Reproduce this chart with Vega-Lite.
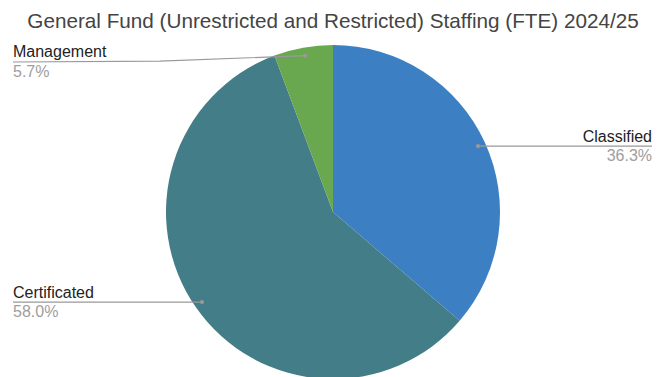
{
  "$schema": "https://vega.github.io/schema/vega-lite/v6.json",
  "width": 666,
  "height": 330,
  "autosize": {"type": "none"},
  "padding": {"top": 47, "left": 0, "right": 2, "bottom": 0},
  "background": "white",
  "title": {
    "text": "General Fund (Unrestricted and Restricted) Staffing (FTE) 2024/25",
    "font": "Liberation Sans",
    "fontSize": 20.7,
    "fontWeight": "normal",
    "color": "#444444",
    "anchor": "middle",
    "frame": "group",
    "baseline": "alphabetic",
    "offset": 20,
    "dy": 24.3
  },
  "config": {"view": {"stroke": null}},
  "datasets": {
    "slices": [
      {"category": "Classified", "share": 36.3, "order": 1},
      {"category": "Certificated", "share": 58.0, "order": 2},
      {"category": "Management", "share": 5.7, "order": 3}
    ],
    "leaders": [
      {"category": "Classified", "seq": 0, "x": 0.871, "y": 0.396},
      {"category": "Classified", "seq": 1, "x": 1.916, "y": 0.396},
      {"category": "Certificated", "seq": 0, "x": -0.787, "y": -0.541},
      {"category": "Certificated", "seq": 1, "x": -1.922, "y": -0.541},
      {"category": "Management", "seq": 0, "x": -0.168, "y": 0.939},
      {"category": "Management", "seq": 1, "x": -1.039, "y": 0.906},
      {"category": "Management", "seq": 2, "x": -1.922, "y": 0.901}
    ],
    "labels": [
      {"category": "Classified", "pct": "36.3%", "x": 1.916, "y": 0.396},
      {"category": "Certificated", "pct": "58.0%", "x": -1.922, "y": -0.541},
      {"category": "Management", "pct": "5.7%", "x": -1.922, "y": 0.901}
    ]
  },
  "layer": [
    {
      "data": {"name": "slices"},
      "mark": {"type": "arc", "outerRadius": 167},
      "encoding": {
        "theta": {"field": "share", "type": "quantitative", "stack": true},
        "order": {"field": "order", "type": "quantitative"},
        "color": {
          "field": "category",
          "type": "nominal",
          "scale": {"domain": ["Classified", "Certificated", "Management"], "range": ["#3c80c3", "#437d88", "#6aa84f"]},
          "legend": null
        }
      }
    },
    {
      "data": {"name": "leaders"},
      "mark": {"type": "line", "color": "#999999", "strokeWidth": 1.2},
      "encoding": {
        "x": {"field": "x", "type": "quantitative", "scale": {"domain": [-2, 2], "nice": false, "zero": false}, "axis": null},
        "y": {"field": "y", "type": "quantitative", "scale": {"domain": [-0.991, 0.991], "nice": false, "zero": false}, "axis": null},
        "detail": {"field": "category", "type": "nominal"},
        "order": {"field": "seq", "type": "quantitative"}
      }
    },
    {
      "data": {"name": "leaders"},
      "transform": [{"filter": "datum.seq == 0"}],
      "mark": {"type": "point", "filled": true, "color": "#999999", "size": 18, "opacity": 1},
      "encoding": {
        "x": {"field": "x", "type": "quantitative"},
        "y": {"field": "y", "type": "quantitative"}
      }
    },
    {
      "data": {"name": "labels"},
      "mark": {"type": "text", "font": "Liberation Sans", "fontSize": 16, "color": "#222222", "baseline": "alphabetic", "dy": -4.5, "align": {"expr": "datum.x > 0 ? 'right' : 'left'"}},
      "encoding": {
        "x": {"field": "x", "type": "quantitative"},
        "y": {"field": "y", "type": "quantitative"},
        "text": {"field": "category", "type": "nominal"}
      }
    },
    {
      "data": {"name": "labels"},
      "mark": {"type": "text", "font": "Liberation Sans", "fontSize": 16, "color": "#9e9e9e", "baseline": "alphabetic", "dy": 15.3, "align": {"expr": "datum.x > 0 ? 'right' : 'left'"}},
      "encoding": {
        "x": {"field": "x", "type": "quantitative"},
        "y": {"field": "y", "type": "quantitative"},
        "text": {"field": "pct", "type": "nominal"}
      }
    }
  ]
}
